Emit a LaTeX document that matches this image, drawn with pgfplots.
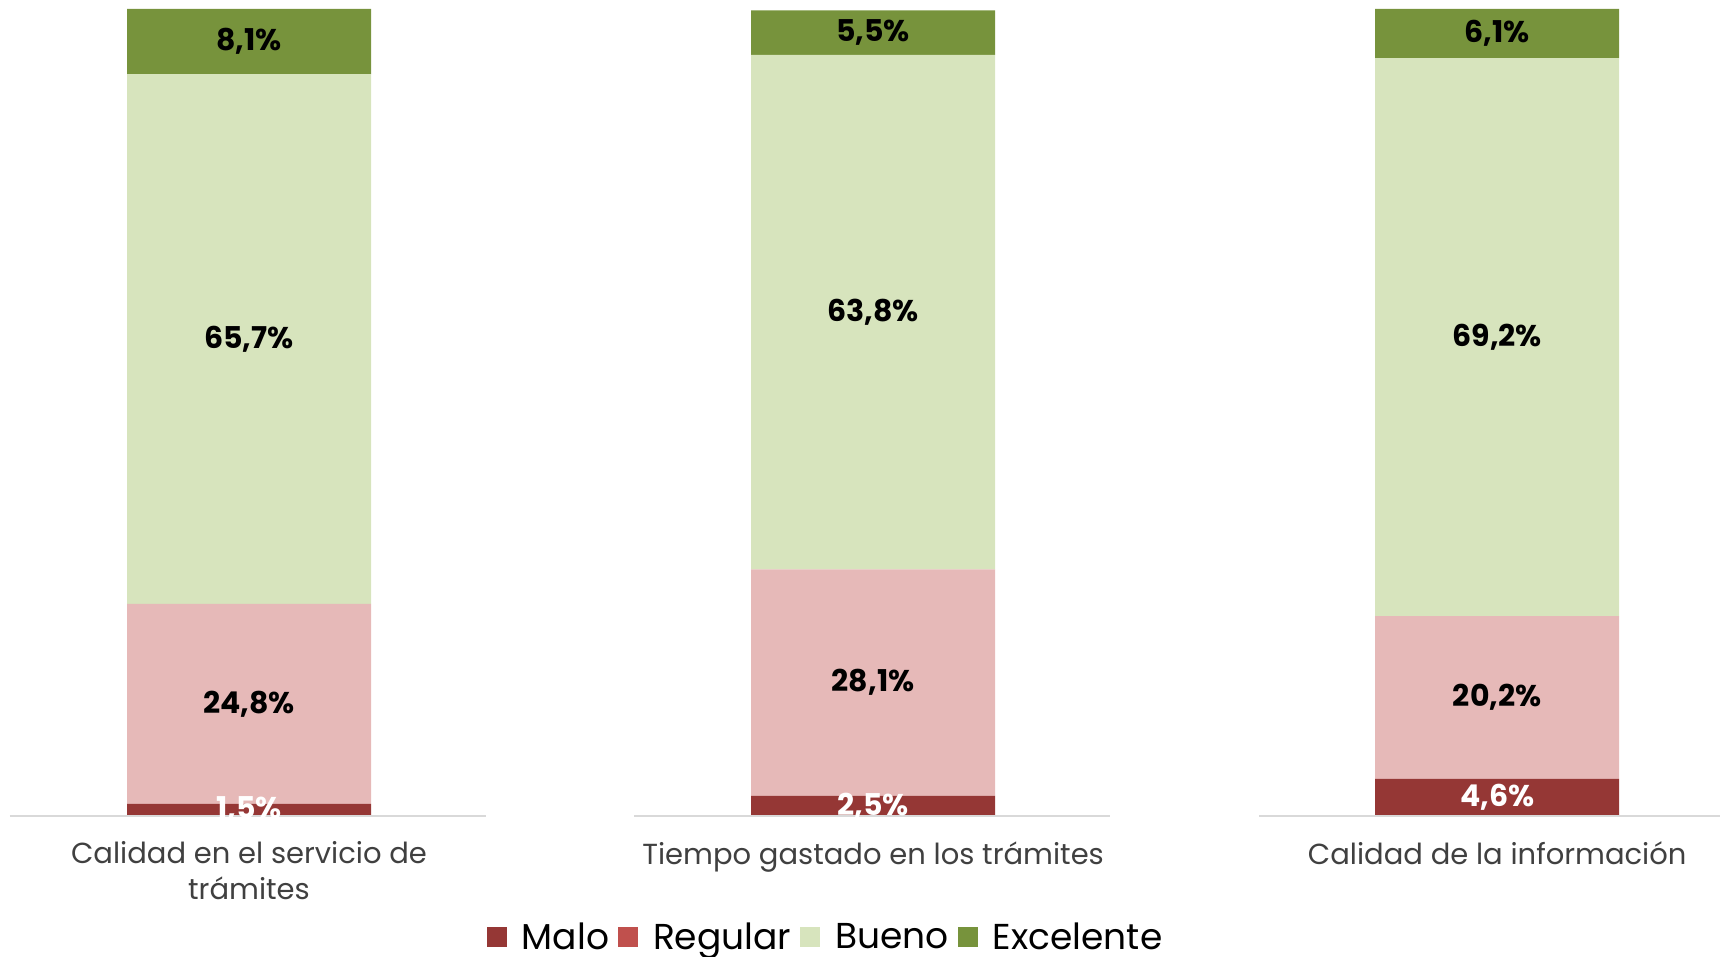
\documentclass[border=0pt]{standalone}
\usepackage{fontspec}
\setmainfont{Poppins}
\usepackage{pgfplots}
\pgfplotsset{compat=1.18}
\definecolor{malo}{RGB}{149,55,53}
\definecolor{regularbar}{RGB}{230,185,184}
\definecolor{regularleg}{RGB}{192,80,77}
\definecolor{bueno}{RGB}{215,228,189}
\definecolor{excelente}{RGB}{119,147,60}
\definecolor{basegray}{RGB}{217,217,217}
\definecolor{labelgray}{RGB}{64,64,64}
\begin{document}
\begin{tikzpicture}
\begin{axis}[
  scale only axis, width=1720bp, height=816bp,
  xmin=-0.399, xmax=2.357, ymin=0, ymax=101.2,
  ybar stacked, bar width=0.391,
  axis line style={draw=none},
  ytick=\empty,
  xtick={0,1,2},
  xticklabels={{Calidad en el servicio de\\trámites},{Tiempo gastado en los trámites},{Calidad de la información}},
  xticklabel style={align=center, font=\fontsize{29bp}{36bp}\selectfont, text=labelgray, yshift=-22bp},
  major tick length=0pt,
  clip=false,
  visualization depends on=rawy\as\rawy,
  nodes near coords={\pgfmathprintnumber[assume math mode=true,use comma,fixed,fixed zerofill,precision=1]{\rawy}\%},
  every node near coord/.append style={anchor=center, font=\fontsize{30bp}{30bp}\selectfont\bfseries},
  legend style={at={(0.4797,-0.148)}, anchor=center, draw=none, fill=none,
    font=\fontsize{36bp}{40bp}\selectfont,
    nodes={inner sep=1bp},
    /tikz/every even column/.append style={column sep=8bp},
    /tikz/every odd column/.append style={column sep=14bp}},
  legend columns=-1,
]
\draw[draw=basegray, line width=2bp] (axis cs:-0.383,0) -- (axis cs:0.38,0);
\draw[draw=basegray, line width=2bp] (axis cs:0.617,0) -- (axis cs:1.38,0);
\draw[draw=basegray, line width=2bp] (axis cs:1.619,0) -- (axis cs:2.357,0);
\addplot[fill=malo, draw=none, every node near coord/.append style={text=white},
  legend image code/.code={\fill[malo] (0bp,-10bp) rectangle (20bp,10bp);}]
  coordinates {(0,1.5) (1,2.5) (2,4.6)};
\addplot[fill=regularbar, draw=none,
  legend image code/.code={\fill[regularleg] (0bp,-10bp) rectangle (20bp,10bp);}]
  coordinates {(0,24.8) (1,28.1) (2,20.2)};
\addplot[fill=bueno, draw=none,
  legend image code/.code={\fill[bueno] (0bp,-10bp) rectangle (20bp,10bp);}]
  coordinates {(0,65.7) (1,63.8) (2,69.2)};
\addplot[fill=excelente, draw=none,
  legend image code/.code={\fill[excelente] (0bp,-10bp) rectangle (20bp,10bp);}]
  coordinates {(0,8.1) (1,5.5) (2,6.1)};
\legend{Malo,Regular,Bueno,Excelente}
\end{axis}
\pgfresetboundingbox
\path (0,-141bp) rectangle (1720bp,816bp);
\end{tikzpicture}
\end{document}
